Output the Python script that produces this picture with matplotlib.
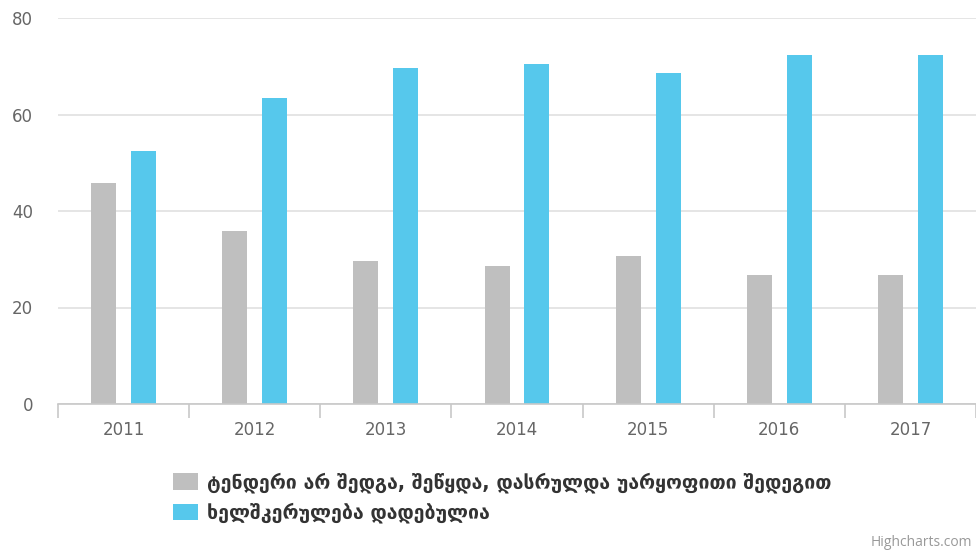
import matplotlib.pyplot as plt
import numpy as np
from matplotlib.ticker import FixedLocator

# tender outcomes per year
years = ['2011', '2012', '2013', '2014', '2015', '2016', '2017']
failed = [45.7, 35.9, 29.6, 28.6, 30.7, 26.7, 26.7]
signed = [52.5, 63.4, 69.6, 70.5, 68.6, 72.4, 72.4]
series_names = ['ტენდერი არ შედგა, შეწყდა, დასრულდა უარყოფითი შედეგით',
                'ხელშკერულება დადებულია']

grey = '#bfbfbf'
blue = '#56c8ec'

fig = plt.figure(figsize=(9.76, 5.54), dpi=100)
ax = fig.add_axes([58 / 976, 1 - 404 / 554, 1 - 58 / 976, (404 - 18) / 554])

x = np.arange(len(years))
w = 0.19
ax.bar(x - 0.152, failed, w, color=grey, label=series_names[0], zorder=2)
ax.bar(x + 0.152, signed, w, color=blue, label=series_names[1], zorder=2)

ax.set_xlim(-0.5, len(years) - 0.5)
ax.set_ylim(0, 80)
ax.set_yticks([0, 20, 40, 60, 80])
ax.grid(axis='y', color='#e0e0e0', linewidth=1.2, zorder=0)
ax.tick_params(axis='y', length=0, pad=18, labelsize=12, labelcolor='#666666')

ax.set_xticks(x)
ax.set_xticklabels(years)
ax.tick_params(axis='x', which='major', length=0, pad=12, labelsize=12, labelcolor='#666666')
ax.xaxis.set_minor_locator(FixedLocator(np.arange(-0.5, len(years), 1.0)))
ax.tick_params(axis='x', which='minor', length=10, width=1.2, color='#c8c8c8')

for s in ['top', 'right', 'left']:
    ax.spines[s].set_visible(False)
ax.spines['bottom'].set_color('#c8c8c8')
ax.spines['bottom'].set_linewidth(1.2)

fig.legend(loc='upper left', bbox_to_anchor=(173 / 976, 1 - 472 / 554), frameon=False,
           borderpad=0, borderaxespad=0,
           handlelength=1.3, handleheight=0.93, handletextpad=0.45, labelspacing=0.5,
           prop={'family': 'DejaVu Sans', 'weight': 'bold', 'size': 14}, labelcolor='#333333')

fig.text(972 / 976, 1 - 546 / 554, 'Highcharts.com', ha='right', va='baseline',
         fontsize=10, color='#999999', family='Open Sans')

fig.savefig('out.png', dpi=100)
